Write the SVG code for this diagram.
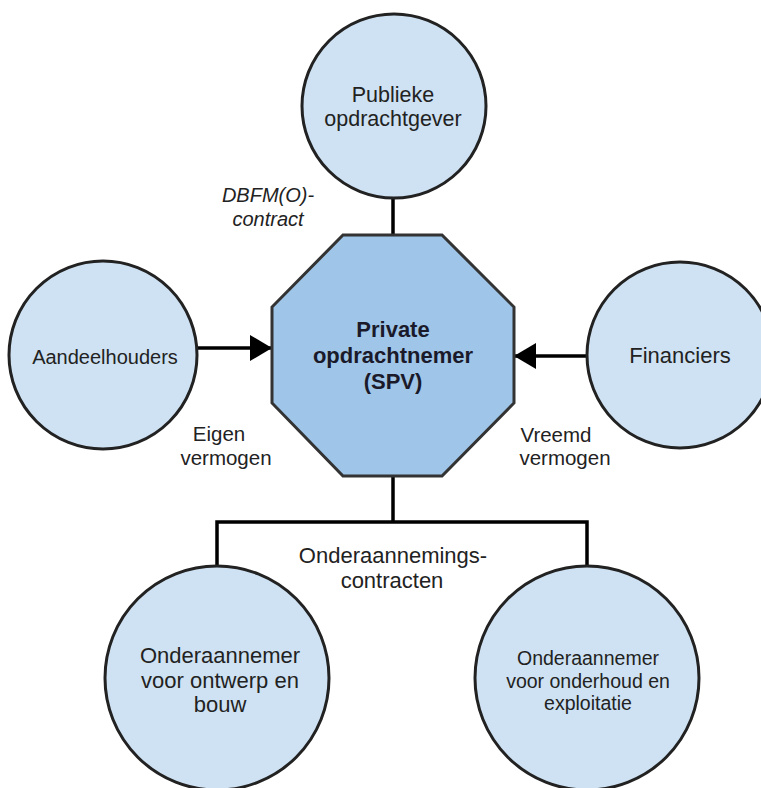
<svg xmlns="http://www.w3.org/2000/svg" width="761" height="788" viewBox="0 0 761 788">
  <defs>
    <style>
      .circle { fill: #cfe2f3; stroke: #222; stroke-width: 3; }
      .octagon { fill: #9fc5e8; stroke: #333; stroke-width: 3; }
      .link { fill: none; stroke: #000; stroke-width: 3.5; }
      .label { font-family: "Liberation Sans", Arial, sans-serif; fill: #222; text-anchor: middle; }
      .bold { font-weight: bold; fill: #1a1a2a; }
      .italic { font-style: italic; }
    </style>
    <marker id="arrow" viewBox="0 0 22 26" refX="22" refY="13" markerWidth="22" markerHeight="26" markerUnits="userSpaceOnUse" orient="auto">
      <path d="M0,0 L22,13 L0,26 Z" fill="#000"/>
    </marker>
  </defs>

  <rect width="761" height="788" fill="#fff"/>

  <!-- connectors -->
  <g id="connectors">
    <line class="link" x1="393" y1="197" x2="393" y2="236"/>
    <line class="link" x1="198" y1="348" x2="272" y2="348" marker-end="url(#arrow)"/>
    <line class="link" x1="587" y1="356" x2="514" y2="356" marker-end="url(#arrow)"/>
    <polyline class="link" points="393,476 393,522"/>
    <polyline class="link" points="217,567 217,522 587,522 587,567"/>
    <text class="label italic" font-size="20" x="268" y="202">DBFM(O)-</text>
    <text class="label italic" font-size="20" x="268" y="226">contract</text>
    <text class="label" font-size="20.5" x="219" y="441">Eigen</text>
    <text class="label" font-size="20.5" x="226" y="465">vermogen</text>
    <text class="label" font-size="20.5" x="556" y="442">Vreemd</text>
    <text class="label" font-size="20.5" x="565" y="465">vermogen</text>
    <text class="label" font-size="22" x="393" y="563">Onderaannemings-</text>
    <text class="label" font-size="22" x="392" y="588">contracten</text>
  </g>

  <!-- nodes -->
  <g id="publieke-opdrachtgever">
    <circle class="circle" cx="394" cy="106" r="92"/>
    <text class="label" font-size="21.5" x="393" y="102">Publieke</text>
    <text class="label" font-size="21.5" x="393" y="126">opdrachtgever</text>
  </g>

  <g id="private-opdrachtnemer">
    <polygon class="octagon" points="343,235 442,235 514,307 514,403 442,476 343,476 272,403 272,307"/>
    <text class="label bold" font-size="22" x="393" y="337">Private</text>
    <text class="label bold" font-size="22" x="393" y="363">opdrachtnemer</text>
    <text class="label bold" font-size="22" x="393" y="389">(SPV)</text>
  </g>

  <g id="aandeelhouders">
    <circle class="circle" cx="103" cy="355" r="94"/>
    <text class="label" font-size="20" x="105" y="364">Aandeelhouders</text>
  </g>

  <g id="financiers">
    <circle class="circle" cx="680" cy="355" r="93"/>
    <text class="label" font-size="22" x="680" y="363">Financiers</text>
  </g>

  <g id="onderaannemer-ontwerp-bouw">
    <circle class="circle" cx="217" cy="678" r="112"/>
    <text class="label" font-size="22" x="220" y="663">Onderaannemer</text>
    <text class="label" font-size="22" x="220" y="688">voor ontwerp en</text>
    <text class="label" font-size="22" x="220" y="712">bouw</text>
  </g>

  <g id="onderaannemer-onderhoud-exploitatie">
    <circle class="circle" cx="587" cy="678" r="112"/>
    <text class="label" font-size="19.5" x="588" y="665">Onderaannemer</text>
    <text class="label" font-size="19.5" x="588" y="688">voor onderhoud en</text>
    <text class="label" font-size="19.5" x="588" y="710">exploitatie</text>
  </g>
</svg>
